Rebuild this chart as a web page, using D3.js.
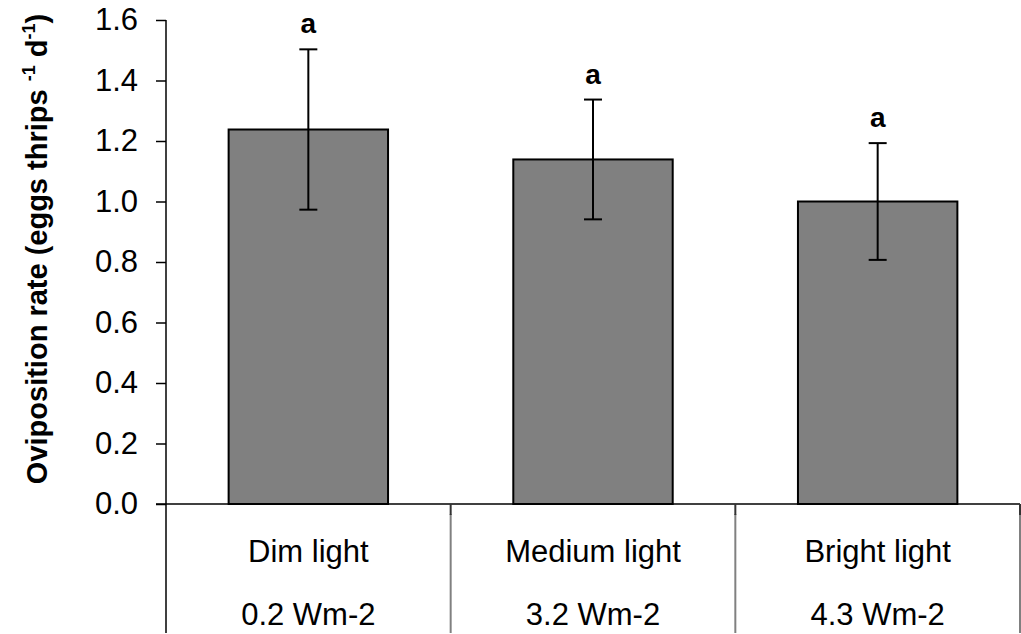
<!DOCTYPE html>
<html>
<head>
<meta charset="utf-8">
<script src="https://cdn.jsdelivr.net/npm/d3@7"></script>
<style>
  html, body { margin: 0; padding: 0; background: #fff; }
  svg { display: block; font-family: Arial, "Liberation Sans", sans-serif; }
</style>
</head>
<body>
<svg id="chart" width="1021" height="634"></svg>
<script>
// Oviposition rate under three light intensities
const categories = ["Dim light", "Medium light", "Bright light"];
const irradiance = ["0.2 Wm-2", "3.2 Wm-2", "4.3 Wm-2"];
const means = [1.238, 1.139, 1.0];
const errors = [0.265, 0.198, 0.193];
const letters = ["a", "a", "a"];
const yTicks = [0, 0.2, 0.4, 0.6, 0.8, 1.0, 1.2, 1.4, 1.6];

const W = 1021, H = 634;
const plotLeft = 166, plotRight = 1020, plotTop = 20, plotBase = 504;

const svg = d3.select("#chart");

const y = d3.scaleLinear().domain([0, 1.6]).range([plotBase, plotTop]);
const x = d3.scaleBand().domain(categories).range([plotLeft, plotRight])
  .paddingInner(0.44).paddingOuter(0.22);
const section = d3.scaleBand().domain(categories).range([plotLeft, plotRight]).padding(0);

// y axis
const yAxis = d3.axisLeft(y).tickValues(yTicks).tickFormat(d3.format(".1f"))
  .tickSize(10).tickPadding(18);
const gy = svg.append("g").attr("transform", `translate(${plotLeft},0)`).call(yAxis);
gy.select(".domain").remove();
gy.selectAll(".tick line").attr("stroke", "#000").attr("stroke-width", 1.5);
gy.selectAll(".tick text").attr("font-size", 31).attr("fill", "#000")
  .attr("font-family", "Arial, 'Liberation Sans', sans-serif");

// left axis line, continuing down through the category table
svg.append("line").attr("x1", plotLeft).attr("x2", plotLeft).attr("y1", plotTop).attr("y2", H - 1)
  .attr("stroke", "#000").attr("stroke-width", 1.5);

// baseline
svg.append("line").attr("x1", plotLeft - 10).attr("x2", plotRight).attr("y1", plotBase).attr("y2", plotBase)
  .attr("stroke", "#000").attr("stroke-width", 1.5);

// category separators
const edges = categories.map(c => section(c) + section.bandwidth());
svg.selectAll("line.sep").data(edges).join("line").attr("class", "sep")
  .attr("x1", d => d).attr("x2", d => d).attr("y1", plotBase + 10).attr("y2", H - 1)
  .attr("stroke", "#808080").attr("stroke-width", 2);
svg.selectAll("line.septick").data(edges).join("line").attr("class", "septick")
  .attr("x1", d => d).attr("x2", d => d).attr("y1", plotBase).attr("y2", plotBase + 11)
  .attr("stroke", "#333").attr("stroke-width", 2);

// bars
svg.selectAll("rect.bar").data(categories).join("rect").attr("class", "bar")
  .attr("x", d => x(d)).attr("width", x.bandwidth())
  .attr("y", (d, i) => y(means[i])).attr("height", (d, i) => plotBase - y(means[i]))
  .attr("fill", "#808080").attr("stroke", "#000").attr("stroke-width", 2);

// error bars
const cx = d => x(d) + x.bandwidth() / 2;
const g = svg.append("g").attr("stroke", "#000").attr("stroke-width", 2);
categories.forEach((c, i) => {
  const hi = y(means[i] + errors[i]), lo = y(means[i] - errors[i]);
  g.append("line").attr("x1", cx(c)).attr("x2", cx(c)).attr("y1", hi).attr("y2", lo);
  g.append("line").attr("x1", cx(c) - 9).attr("x2", cx(c) + 9).attr("y1", hi).attr("y2", hi);
  g.append("line").attr("x1", cx(c) - 9).attr("x2", cx(c) + 9).attr("y1", lo).attr("y2", lo);
});

// significance letters
svg.selectAll("text.sig").data(categories).join("text").attr("class", "sig")
  .attr("x", cx).attr("y", (d, i) => y(means[i] + errors[i]) - 16)
  .attr("text-anchor", "middle").attr("font-size", 28).attr("font-weight", "bold")
  .text((d, i) => letters[i]);

// category labels
svg.selectAll("text.cat").data(categories).join("text").attr("class", "cat")
  .attr("x", d => section(d) + section.bandwidth() / 2).attr("y", 562)
  .attr("text-anchor", "middle").attr("font-size", 31).text(d => d);
svg.selectAll("text.irr").data(categories).join("text").attr("class", "irr")
  .attr("x", d => section(d) + section.bandwidth() / 2).attr("y", 625)
  .attr("text-anchor", "middle").attr("font-size", 31).text((d, i) => irradiance[i]);

// y axis title
const t = svg.append("text").attr("transform", "translate(47,249) rotate(-90)")
  .attr("text-anchor", "middle").attr("font-size", 29).attr("font-weight", "bold");
t.append("tspan").text("Oviposition rate (eggs thrips ");
t.append("tspan").attr("dy", -12).attr("font-size", 18).text("-1");
t.append("tspan").attr("dy", 12).text(" d");
t.append("tspan").attr("dy", -12).attr("font-size", 18).text("-1");
t.append("tspan").attr("dy", 12).text(")");
</script>
</body>
</html>
